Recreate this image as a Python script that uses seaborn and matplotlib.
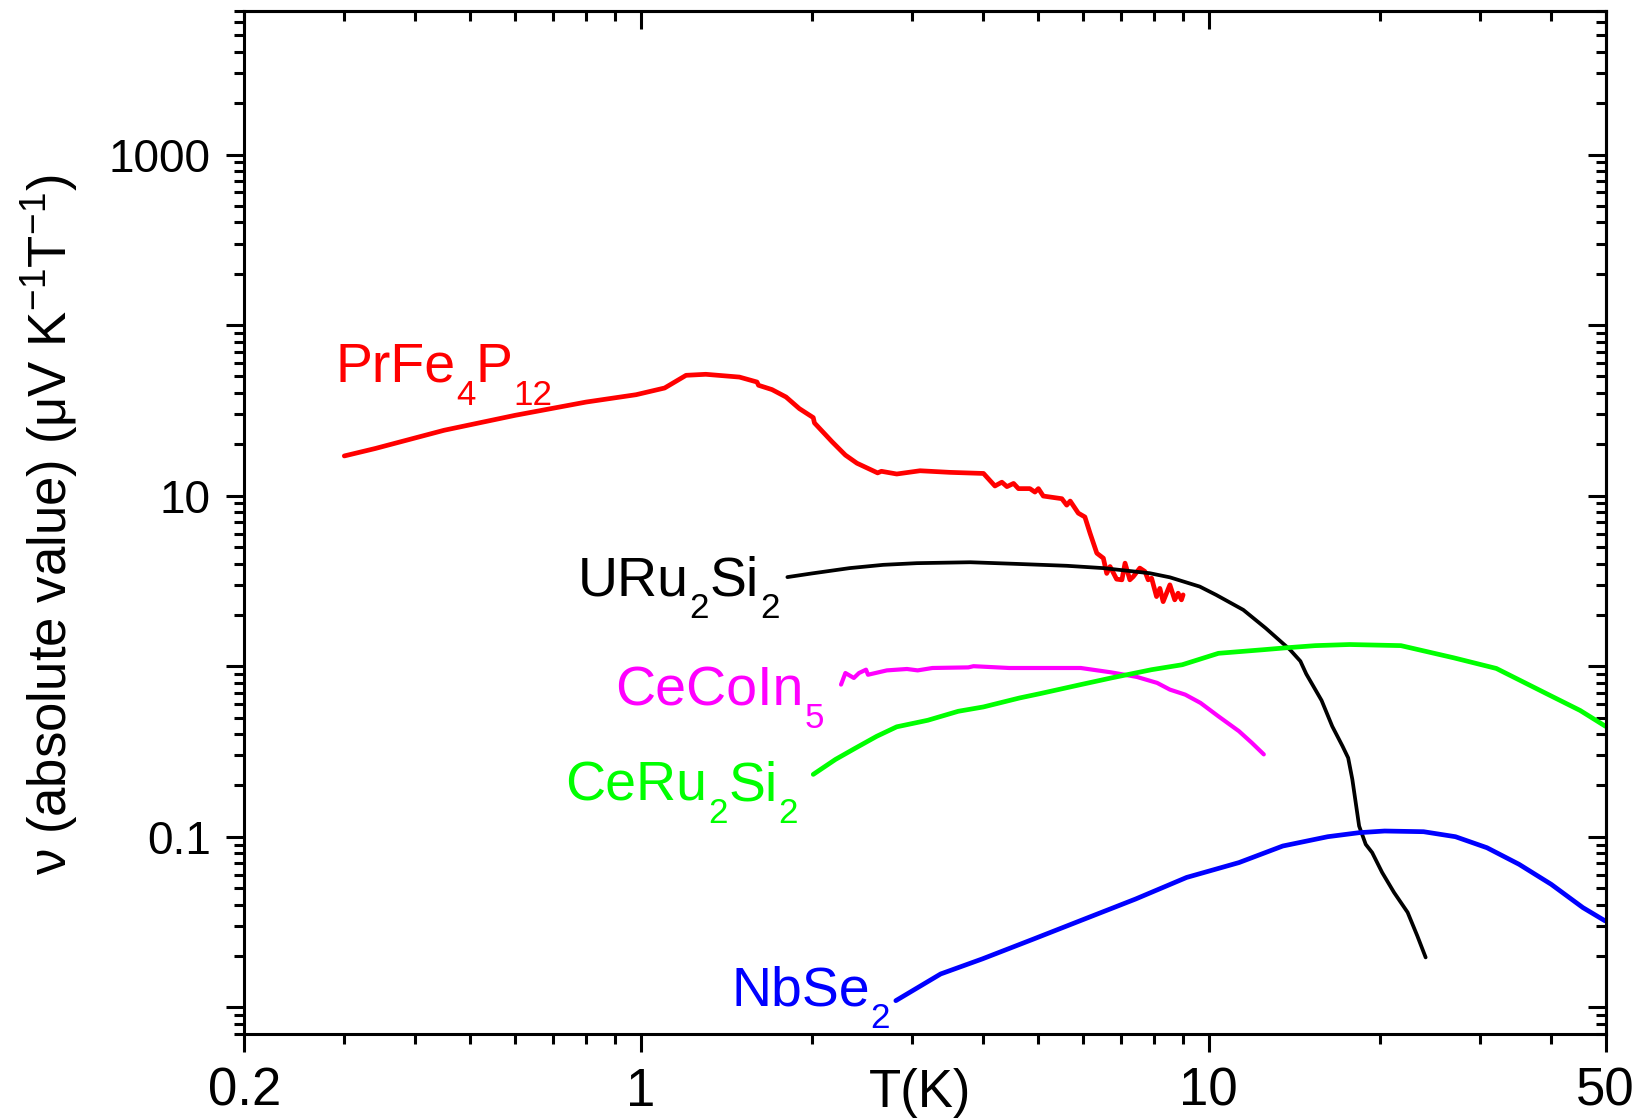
import numpy as np
import pandas as pd
import matplotlib
matplotlib.use("Agg")
import matplotlib.pyplot as plt
import matplotlib.ticker as mticker
import seaborn as sns

# ---- data: Nernst coefficient (absolute value) vs temperature ----
prfe_T = [0.30, 0.34, 0.45, 0.60, 0.80, 0.98, 1.10, 1.20, 1.30, 1.49, 1.60, 1.61,
          1.70, 1.80, 1.90, 2.01, 2.02, 2.17, 2.29, 2.40, 2.61, 2.65, 2.82, 3.10,
          3.50, 4.01, 4.20, 4.32, 4.41, 4.53, 4.62, 4.84, 4.94, 5.01, 5.11, 5.51,
          5.62, 5.70, 5.89, 6.05, 6.18, 6.35, 6.52, 6.61, 6.70, 6.88, 7.03, 7.12,
          7.26, 7.36, 7.56, 7.72, 7.82, 7.93, 8.09, 8.20, 8.31, 8.54, 8.71, 8.83,
          8.95, 9.01]
prfe_nu = [17.1, 18.9, 24.2, 29.6, 35.4, 39.1, 42.8, 50.8, 51.5, 49.6, 46.4, 44.4,
           41.9, 37.9, 32.4, 28.7, 26.7, 20.7, 17.3, 15.5, 13.6, 13.9, 13.4, 14.0,
           13.7, 13.5, 11.4, 12.0, 11.3, 11.8, 11.0, 11.0, 10.5, 11.0, 9.95, 9.6,
           8.8, 9.3, 7.9, 7.5, 6.0, 4.6, 4.3, 3.5, 3.84, 3.24, 3.21, 4.02,
           3.21, 3.35, 3.76, 3.59, 3.21, 3.28, 2.56, 2.86, 2.39, 3.0, 2.45, 2.68,
           2.45, 2.62]

uru_T = [1.81, 2.0, 2.33, 2.67, 3.06, 3.80, 4.59, 5.62, 6.52, 7.87, 8.54, 9.64,
         10.3, 11.5, 12.6, 13.9, 14.5, 14.85, 15.8, 16.5, 17.2, 17.6, 17.9, 18.4,
         18.9, 19.4, 20.2, 21.2, 22.4, 23.3, 24.1]
uru_nu = [3.33, 3.5, 3.76, 3.93, 4.02, 4.07, 3.98, 3.88, 3.76, 3.51, 3.32, 2.93,
          2.62, 2.14, 1.67, 1.25, 1.07, 0.90, 0.63, 0.444, 0.34, 0.29, 0.217, 0.1155,
          0.0902, 0.0807, 0.0617, 0.0471, 0.0360, 0.0262, 0.0196]

cecoin_T = [2.25, 2.29, 2.37, 2.42, 2.49, 2.51, 2.71, 2.94, 3.07, 3.26, 3.77, 3.85,
            4.45, 4.94, 5.95, 6.73, 7.47, 8.11, 8.54, 9.09, 9.67, 10.4, 11.3, 11.9,
            12.5]
cecoin_nu = [0.780, 0.912, 0.853, 0.912, 0.954, 0.891, 0.945, 0.963, 0.945, 0.976,
             0.984, 1.0, 0.976, 0.976, 0.976, 0.920, 0.865, 0.798, 0.729, 0.681,
             0.609, 0.508, 0.416, 0.356, 0.304]

ceru_T = [2.01, 2.20, 2.39, 2.60, 2.82, 3.20, 3.62, 4.01, 4.64, 5.04, 5.95, 6.73,
          7.93, 8.98, 10.4, 12.5, 13.6, 15.4, 17.7, 21.8, 27.0, 32.1, 39.7, 45.1,
          50.0]
ceru_nu = [0.232, 0.284, 0.332, 0.388, 0.441, 0.482, 0.544, 0.577, 0.651, 0.690,
           0.780, 0.853, 0.954, 1.02, 1.19, 1.25, 1.28, 1.32, 1.34, 1.32, 1.12,
           0.97, 0.68, 0.55, 0.444]

nbse_T = [2.81, 3.37, 3.99, 4.91, 6.04, 7.43, 9.14, 11.3, 13.5, 16.2, 18.4, 20.4,
          23.9, 27.2, 30.9, 35.2, 40.1, 45.6, 49.9]
nbse_nu = [0.01093, 0.01567, 0.0192, 0.0251, 0.0329, 0.0431, 0.0577, 0.0705,
           0.0882, 0.100, 0.1056, 0.108, 0.107, 0.100, 0.0862, 0.0689, 0.0526,
           0.0384, 0.0321]

compounds = ["PrFe4P12", "URu2Si2", "CeCoIn5", "CeRu2Si2", "NbSe2"]
# chemical formulas as (text, is_subscript) pieces
formula_parts = [
    [("PrFe", False), ("4", True), ("P", False), ("12", True)],
    [("URu", False), ("2", True), ("Si", False), ("2", True)],
    [("CeCoIn", False), ("5", True)],
    [("CeRu", False), ("2", True), ("Si", False), ("2", True)],
    [("NbSe", False), ("2", True)],
]
colors = ["#ff0000", "#000000", "#ff00ff", "#00ff00", "#0000ff"]
line_widths = [3.4, 2.7, 3.0, 3.4, 3.4]
label_T = [0.289, 0.774, 0.90, 0.736, 1.44]
label_nu = [46.6, 2.61, 0.588, 0.164, 0.0103]

x_ticks = [0.2, 1, 10, 50]
x_tick_labels = ["0.2", "1", "10", "50"]
y_label_vals = [0.1, 10, 1000]
y_label_text = ["0.1", "10", "1000"]

series = {
    "PrFe4P12": (prfe_T, prfe_nu),
    "URu2Si2": (uru_T, uru_nu),
    "CeCoIn5": (cecoin_T, cecoin_nu),
    "CeRu2Si2": (ceru_T, ceru_nu),
    "NbSe2": (nbse_T, nbse_nu),
}
df = pd.concat(
    [pd.DataFrame({"T": t, "nu": v, "compound": name}) for name, (t, v) in series.items()],
    ignore_index=True,
)

# ---- style ----
sns.set_style("ticks")
plt.rcParams["font.family"] = ["Liberation Sans", "DejaVu Sans"]
plt.rcParams["mathtext.fontset"] = "custom"
plt.rcParams["mathtext.rm"] = "Liberation Sans"
plt.rcParams["mathtext.it"] = "Liberation Sans:italic"
plt.rcParams["mathtext.bf"] = "Liberation Sans:bold"
for key in ["text.color", "axes.labelcolor", "xtick.color", "ytick.color", "axes.edgecolor"]:
    plt.rcParams[key] = "black"

fig = plt.figure(figsize=(16.52, 11.2), dpi=100)
ax = fig.add_axes([0.1479, 0.0771, 0.824, 0.9135])

for name, col, lw in zip(compounds, colors, line_widths):
    sns.lineplot(data=df[df["compound"] == name], x="T", y="nu", color=col,
                 lw=lw, estimator=None, sort=False, ax=ax, legend=False)

ax.set_xscale("log")
ax.set_yscale("log")
ax.set_xlim(0.2, 50)
ax.set_ylim(0.007, 7000)


def draw_formula(ax, x, y, parts, color, size=40, sub_scale=0.63, shift=12.9):
    """Write a formula piece by piece, with large, dropped subscripts."""
    prev = None
    prev_sub = False
    for txt, is_sub in parts:
        fs = size * sub_scale if is_sub else size
        if prev is None:
            prev = ax.text(x, y, txt, fontsize=fs, color=color, ha="left", va="baseline")
        else:
            dy = 0.0
            if is_sub and not prev_sub:
                dy = -shift
            elif not is_sub and prev_sub:
                dy = shift
            prev = ax.annotate(txt, xy=(1, 0), xycoords=prev, xytext=(0.5, dy),
                               textcoords="offset points", fontsize=fs, color=color,
                               ha="left", va="bottom")
        prev_sub = is_sub


for parts, t, v, col in zip(formula_parts, label_T, label_nu, colors):
    draw_formula(ax, t, v, parts, col)

# bottom / left axes: outward ticks
ax.xaxis.set_major_locator(mticker.FixedLocator(x_ticks))
ax.xaxis.set_major_formatter(mticker.FixedFormatter(x_tick_labels))
ax.xaxis.set_minor_locator(mticker.LogLocator(base=10, subs=np.arange(2, 10), numticks=50))
ax.xaxis.set_minor_formatter(mticker.NullFormatter())


def y_formatter(v, pos):
    for val, txt in zip(y_label_vals, y_label_text):
        if np.isclose(v, val):
            return txt
    return ""


ax.yaxis.set_major_locator(mticker.LogLocator(base=10, numticks=50))
ax.yaxis.set_major_formatter(mticker.FuncFormatter(y_formatter))
ax.yaxis.set_minor_locator(mticker.LogLocator(base=10, subs=np.arange(2, 10), numticks=50))
ax.yaxis.set_minor_formatter(mticker.NullFormatter())

ax.tick_params(which="both", direction="out", width=2.2, top=False, right=False, color="black")
ax.tick_params(which="major", length=13)
ax.tick_params(which="minor", length=7.2)
ax.tick_params(axis="x", which="major", labelsize=38, pad=11)
ax.tick_params(axis="y", which="major", labelsize=33, pad=11)

for sp in ax.spines.values():
    sp.set_linewidth(2.2)
    sp.set_color("black")
    sp.set_visible(True)

# top / right axes: inward ticks, no labels
top = ax.secondary_xaxis("top")
top.xaxis.set_major_locator(mticker.FixedLocator(x_ticks))
top.xaxis.set_minor_locator(mticker.LogLocator(base=10, subs=np.arange(2, 10), numticks=50))
top.xaxis.set_major_formatter(mticker.NullFormatter())
top.xaxis.set_minor_formatter(mticker.NullFormatter())
top.tick_params(which="both", direction="in", width=2.2, labeltop=False, color="black")
top.tick_params(which="major", length=13)
top.tick_params(which="minor", length=7.2)
top.spines["top"].set_linewidth(2.2)

right = ax.secondary_yaxis("right")
right.yaxis.set_major_locator(mticker.LogLocator(base=10, numticks=50))
right.yaxis.set_minor_locator(mticker.LogLocator(base=10, subs=np.arange(2, 10), numticks=50))
right.yaxis.set_major_formatter(mticker.NullFormatter())
right.yaxis.set_minor_formatter(mticker.NullFormatter())
right.tick_params(which="both", direction="in", width=2.2, labelright=False, color="black")
right.tick_params(which="major", length=13)
right.tick_params(which="minor", length=7.2)
right.spines["right"].set_linewidth(2.2)

ax.set_xlabel("T(K)", fontsize=38)
ax.xaxis.set_label_coords(0.4963, -0.034)
ax.set_ylabel(r"ν (absolute value) (μV K$^{-1}$T$^{-1}$)", fontsize=38)
ax.yaxis.set_label_coords(-0.1207, 0.497)

fig.savefig("out.png", dpi=100, facecolor="white")
